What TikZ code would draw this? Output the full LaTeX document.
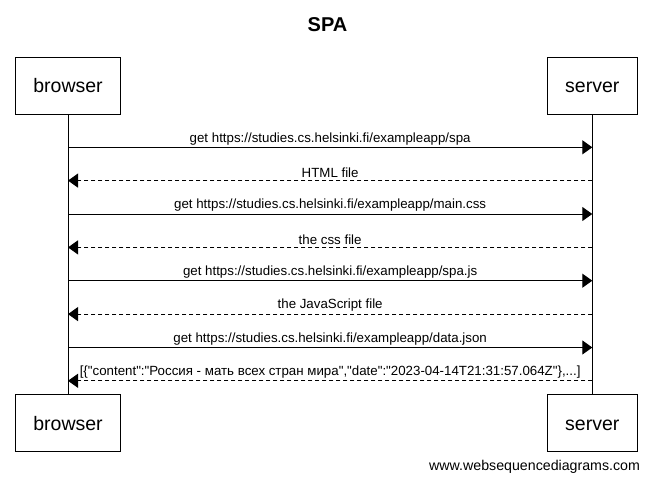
\documentclass[tikz,border=0pt]{standalone}
\usepackage{fontspec}
\setmainfont{Liberation Sans}[Ligatures={TeXOff,CommonOff}]
\usetikzlibrary{arrows.meta}

\begin{document}
\begin{tikzpicture}[x=1pt, y=-1pt,
  actor/.style={draw, line width=1pt, fill=white, inner xsep=18pt, minimum height=56.5pt, text height=14pt, text depth=0pt, font=\fontsize{19.5}{22}\selectfont},
  lifeline/.style={line width=1pt},
  msg/.style={line width=1pt, -{Triangle[length=10pt, width=14pt]}},
  reply/.style={msg, dash pattern=on 4pt off 3pt},
  lbl/.style={above, inner sep=2pt, font=\fontsize{13.3}{15}\selectfont}]
  \useasboundingbox (0,0) rectangle (652,486);

  % Title
  \node[font=\bfseries\fontsize{20}{24}\selectfont] (title) at (327.5,24.5) {SPA};

  % Participants
  \node[actor] (browser top) at (68,85.8) {browser};
  \node[actor] (server top) at (592.3,85.8) {server};
  \node[actor] (browser bottom) at (68,423) {browser};
  \node[actor] (server bottom) at (592.3,423) {server};

  % Lifelines
  \draw[lifeline] (browser top.south) -- (browser bottom.north);
  \draw[lifeline] (server top.south) -- (server bottom.north);

  % Message rows
  \coordinate (b1) at (68,147.3);  \coordinate (s1) at (592.3,147.3);
  \coordinate (b2) at (68,180.6);  \coordinate (s2) at (592.3,180.6);
  \coordinate (b3) at (68,214.0);  \coordinate (s3) at (592.3,214.0);
  \coordinate (b4) at (68,247.4);  \coordinate (s4) at (592.3,247.4);
  \coordinate (b5) at (68,280.7);  \coordinate (s5) at (592.3,280.7);
  \coordinate (b6) at (68,314.1);  \coordinate (s6) at (592.3,314.1);
  \coordinate (b7) at (68,347.5);  \coordinate (s7) at (592.3,347.5);
  \coordinate (b8) at (68,380.8);  \coordinate (s8) at (592.3,380.8);

  % Requests and responses
  \draw[msg] (b1) -- (s1) node[lbl, midway] {get https://studies.cs.helsinki.fi/exampleapp/spa};
  \draw[reply] (s2) -- (b2) node[lbl, midway] {HTML file};
  \draw[msg] (b3) -- (s3) node[lbl, midway] {get https://studies.cs.helsinki.fi/exampleapp/main.css};
  \draw[reply] (s4) -- (b4) node[lbl, midway] {the css file};
  \draw[msg] (b5) -- (s5) node[lbl, midway] {get https://studies.cs.helsinki.fi/exampleapp/spa.js};
  \draw[reply] (s6) -- (b6) node[lbl, midway] {the JavaScript file};
  \draw[msg] (b7) -- (s7) node[lbl, midway] {get https://studies.cs.helsinki.fi/exampleapp/data.json};
  \draw[reply] (s8) -- (b8) node[lbl, midway] {[\{"content":"Россия - мать всех стран мира","date":"2023-04-14T21:31:57.064Z"\},...]};

  % Credit
  \node[anchor=east, font=\fontsize{14.2}{16}\selectfont] (credit) at (643.5,467) {www.websequencediagrams.com};
\end{tikzpicture}
\end{document}
